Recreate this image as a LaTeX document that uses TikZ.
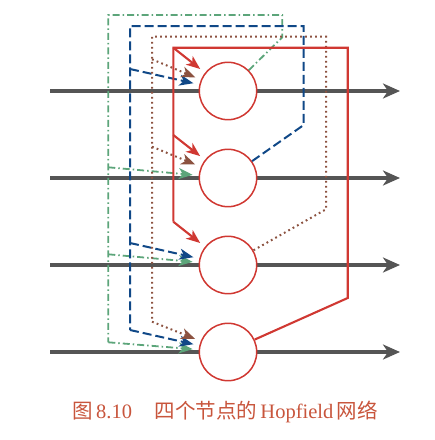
\documentclass[tikz,border=0pt]{standalone}
\usepackage{fontspec}
\setmainfont{Liberation Serif}
\newfontfamily\cjk{Noto Sans CJK SC}
\usetikzlibrary{arrows.meta}
\definecolor{lgray}{RGB}{85,85,85}
\definecolor{rred}{RGB}{208,56,50}
\definecolor{bblue}{RGB}{16,72,135}
\definecolor{ggreen}{RGB}{92,165,122}
\definecolor{bbrown}{RGB}{140,82,64}
\definecolor{capcol}{RGB}{200,85,60}
\begin{document}
\begin{tikzpicture}[x=1pt,y=-1pt,
  axisline/.style={draw=lgray,line width=3.4pt,-{Stealth[length=17pt,width=15pt,inset=5pt]}},
  neuron/.style={circle,draw=rred,line width=1.5pt,fill=white,minimum size=57.4pt,inner sep=0pt},
  redln/.style={draw=rred,line width=2.1pt},
  blueln/.style={draw=bblue,line width=2pt,dash pattern=on 9pt off 4pt},
  greenln/.style={draw=ggreen,line width=1.8pt,dash pattern=on 7pt off 3pt on 1.5pt off 3pt},
  brownln/.style={draw=bbrown,line width=2pt,dash pattern=on 1.8pt off 3.2pt},
  tip/.style={-{Stealth[length=14pt,width=11pt,inset=4pt]},shorten >=6pt},
]
\useasboundingbox (0,0) rectangle (435,440);
% horizontal lines
\foreach \i/\y in {1/91,2/178,3/265,4/352}{
  \coordinate (l\i) at (50,\y);
  \coordinate (r\i) at (400,\y);
  \draw[axisline] (l\i) -- (r\i);
}
% neurons
\node[neuron] (c1) at (228,91) {};
\node[neuron] (c2) at (228,178) {};
\node[neuron] (c3) at (228,265) {};
\node[neuron] (c4) at (228,352) {};
% corner coordinates
\coordinate (rA) at (347.7,298);
\coordinate (rB) at (347.7,47.7);
\coordinate (rC) at (173.3,47.7);
\coordinate (rD) at (173.3,135);
\coordinate (rE) at (173.3,221.7);
\coordinate (bA) at (303.7,125);
\coordinate (bB) at (303.7,26);
\coordinate (bC) at (130,26);
\coordinate (bD) at (130,69);
\coordinate (bE) at (130,243);
\coordinate (bF) at (130,330);
\coordinate (oA) at (326,209.3);
\coordinate (oB) at (326,36.7);
\coordinate (oC) at (152,36.7);
\coordinate (oD) at (152,59.3);
\coordinate (oE) at (152,146.7);
\coordinate (oF) at (152,321.7);
\coordinate (gA) at (282.3,37.3);
\coordinate (gB) at (282.3,15);
\coordinate (gC) at (108.3,15);
\coordinate (gD) at (108.3,167.3);
\coordinate (gE) at (108.3,254.3);
\coordinate (gF) at (108.3,342.3);
% green (from c1)
\draw[greenln] (c1.45) -- (gA) -- (gB) -- (gC) -- (gF);
\draw[greenln,tip,ggreen] (gD) -- (c2);
\draw[greenln,tip,ggreen] (gE) -- (c3);
\draw[greenln,tip,ggreen] (gF) -- (c4);
% blue (from c2)
\draw[blueln] (c2.35) -- (bA) -- (bB) -- (bC) -- (bF);
\draw[blueln,tip,bblue] (bD) -- (c1);
\draw[blueln,tip,bblue] (bE) -- (c3);
\draw[blueln,tip,bblue] (bF) -- (c4);
% brown (from c3)
\draw[brownln] (c3.30) -- (oA) -- (oB) -- (oC) -- (oF);
\draw[brownln,tip,bbrown] (oD) -- (c1);
\draw[brownln,tip,bbrown] (oE) -- (c2);
\draw[brownln,tip,bbrown] (oF) -- (c4);
% red (from c4)
\draw[redln] (c4.25) -- (rA) -- (rB) -- (rC) -- (rE);
\draw[redln,tip,rred] (rC) -- (c1);
\draw[redln,tip,rred] (rD) -- (c2);
\draw[redln,tip,rred] (rE) -- (c3);
% caption
\node[text=capcol,font=\fontsize{20.5}{24}\selectfont,anchor=base] (cap) at (225,418)
  {{\cjk 图}\,8.10\hspace{1.1em}{\cjk 四个节点的}\,Hopfield\,{\cjk 网络}};
\end{tikzpicture}
\end{document}
